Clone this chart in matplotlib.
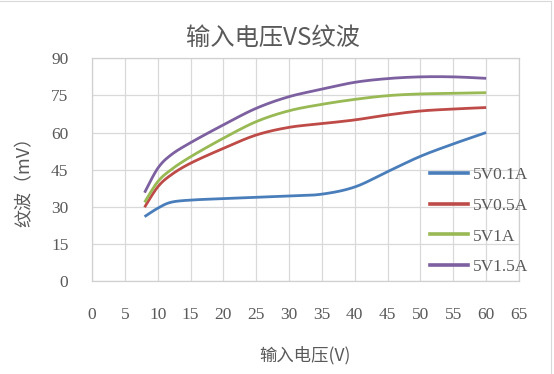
import numpy as np
import matplotlib
matplotlib.use("Agg")
import matplotlib.pyplot as plt
from matplotlib.lines import Line2D

# ---- data ----
voltage = [8, 10, 12, 15, 20, 25, 30, 35, 40, 45, 50, 55, 60]
ripple_01A = [26.0, 29.4, 31.8, 32.7, 33.3, 33.8, 34.3, 35.1, 38.0, 44.2, 50.4, 55.4, 60.0]
ripple_05A = [29.8, 38.0, 42.8, 47.6, 53.6, 59.0, 62.1, 63.6, 65.1, 67.1, 68.7, 69.5, 70.1]
ripple_1A = [31.8, 40.1, 44.9, 50.2, 57.7, 64.4, 68.8, 71.4, 73.4, 74.9, 75.6, 75.8, 76.1]
ripple_15A = [35.7, 45.5, 50.9, 55.9, 63.1, 69.8, 74.5, 77.5, 80.3, 81.8, 82.5, 82.5, 81.9]
series_names = ["5V0.1A", "5V0.5A", "5V1A", "5V1.5A"]
colors = ["#4A7EBB", "#BE4B48", "#98B954", "#7D60A0"]
x_ticks = list(range(0, 70, 5))
y_ticks = list(range(0, 105, 15))

title = "输入电压VS纹波"
xlabel = "输入电压(V)"
ylabel = "纹波（mV）"

cjk = ["Noto Sans CJK SC", "DejaVu Sans"]
serif = ["Liberation Serif", "DejaVu Serif"]
txt_color = "#595959"


def smooth(xs, ys, sx, sy, n=30):
    """Catmull-Rom smoothing (like Excel's smoothed line) in scaled space."""
    P = np.column_stack([np.asarray(xs, float) * sx, np.asarray(ys, float) * sy])
    P = np.vstack([P[0], P, P[-1]])
    out = []
    for i in range(1, len(P) - 2):
        p0, p1, p2, p3 = P[i - 1], P[i], P[i + 1], P[i + 2]
        m1 = (p2 - p0) / 2.0
        m2 = (p3 - p1) / 2.0
        t = np.linspace(0, 1, n, endpoint=(i == len(P) - 3))[:, None]
        h00 = 2 * t**3 - 3 * t**2 + 1
        h10 = t**3 - 2 * t**2 + t
        h01 = -2 * t**3 + 3 * t**2
        h11 = t**3 - t**2
        out.append(h00 * p1 + h10 * m1 + h01 * p2 + h11 * m2)
    out = np.vstack(out)
    return out[:, 0] / sx, out[:, 1] / sy


fig = plt.figure(figsize=(5.54, 3.74), dpi=100)
W, H = 554, 374
ax = fig.add_axes([92 / W, 1 - 281 / H, (519 - 92) / W, (281 - 58.3) / H])

sx = (519 - 92) / 65.0
sy = (281 - 58.3) / 90.0
handles = []
for ys, name, c in zip([ripple_01A, ripple_05A, ripple_1A, ripple_15A], series_names, colors):
    xx, yy = smooth(voltage, ys, sx, sy)
    ax.plot(xx, yy, color=c, lw=2.0, solid_capstyle="butt", zorder=3)
    handles.append(Line2D([], [], color=c, lw=2.6, label=name))

ax.set_xlim(0, 65)
ax.set_ylim(0, 90)
ax.set_xticks(x_ticks)
ax.set_yticks(y_ticks)
ax.grid(True, color="#D9D9D9", lw=0.9)
ax.set_axisbelow(True)
for s in ax.spines.values():
    s.set_color("#D0D0D0")
    s.set_linewidth(0.9)
ax.tick_params(length=0, labelcolor=txt_color, labelsize=12.5)
ax.tick_params(axis="x", pad=19)
ax.tick_params(axis="y", pad=17)
for lab in ax.get_xticklabels() + ax.get_yticklabels():
    lab.set_family(serif)

fig.text(273 / W, 1 - 38 / H, title, ha="center", va="center",
         fontsize=17.5, color=txt_color, family=cjk)
fig.text(305 / W, 1 - 355 / H, xlabel, ha="center", va="center",
         fontsize=12.5, color=txt_color, family=cjk)
fig.text(25 / W, 1 - 177 / H, ylabel, ha="center", va="center", rotation=90,
         fontsize=13, color=txt_color, family=cjk)

leg = fig.legend(handles=handles, loc="center left",
                 bbox_to_anchor=(430 / W, 1 - 221 / H), bbox_transform=fig.transFigure,
                 frameon=False, borderpad=0, borderaxespad=0,
                 handlelength=2.2, handletextpad=0.25, labelspacing=0.85,
                 prop={"family": serif, "size": 12.5})
for t in leg.get_texts():
    t.set_color(txt_color)

# chart border (top and right visible in the reference)
fig.add_artist(Line2D([0, 551 / W], [1 - 1 / H, 1 - 1 / H], color="#D9D9D9", lw=0.8,
                      transform=fig.transFigure))
fig.add_artist(Line2D([551 / W, 551 / W], [0, 1 - 1 / H], color="#D9D9D9", lw=0.8,
                      transform=fig.transFigure))

fig.savefig("out.png", dpi=100)
